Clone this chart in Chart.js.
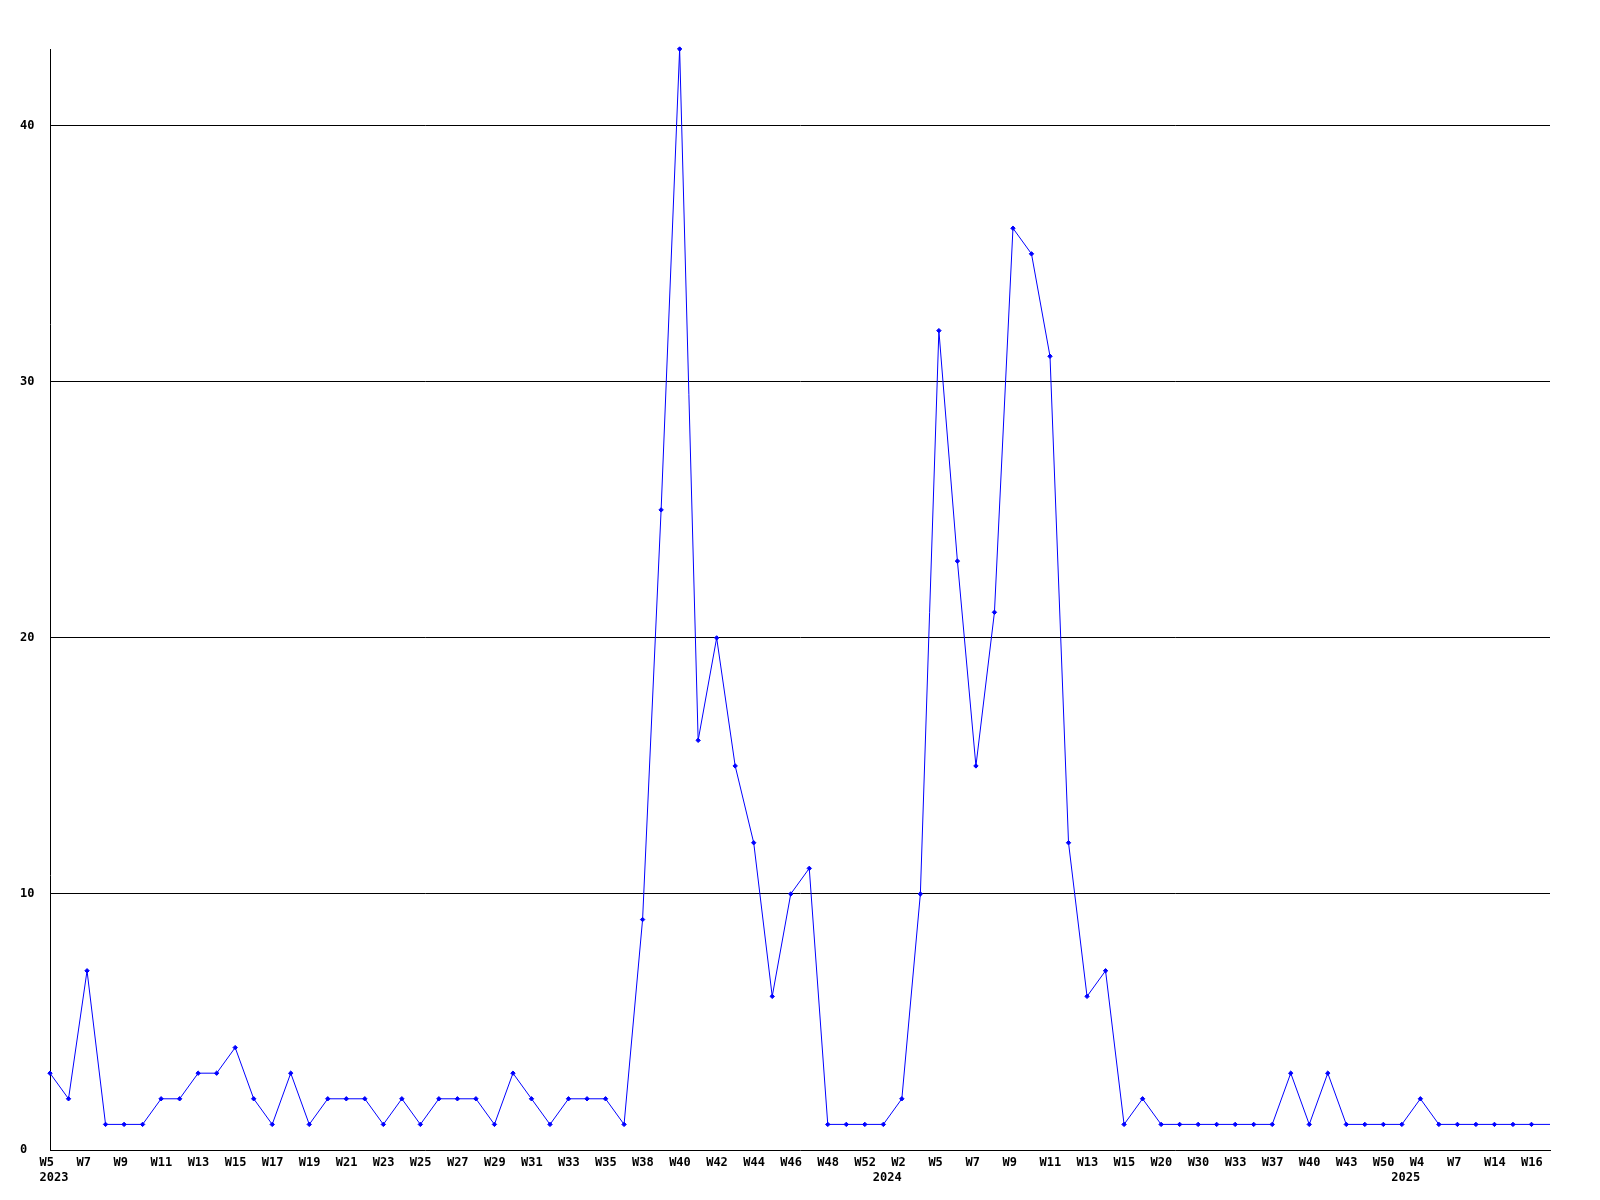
<!DOCTYPE html>
<html>
<head>
<meta charset="utf-8">
<script src="https://cdn.jsdelivr.net/npm/chart.js@4/dist/chart.umd.min.js"></script>
<style>
  html, body { margin: 0; padding: 0; background: #ffffff; }
  #wrap { width: 1600px; height: 1200px; }
</style>
</head>
<body>
<div id="wrap"><canvas id="c" width="1600" height="1200"></canvas></div>
<script>
// Week tick labels (empty = unlabeled category)
const weekLabels = [
  "W5","","W7","","W9","","W11","","W13","",
  "W15","","W17","","W19","","W21","","W23","",
  "W25","","W27","","W29","","W31","","W33","",
  "W35","","W38","","W40","","W42","","W44","",
  "W46","","W48","","W52","","W2","","W5","",
  "W7","","W9","","W11","","W13","","W15","",
  "W20","","W30","","W33","","W37","","W40","",
  "W43","","W50","","W4","","W7","","W14","",
  "W16",""
];
// Year labels on the second line
const yearLabels = [
  "2023","","","","","","","","","",
  "","","","","","","","","","",
  "","","","","","","","","","",
  "","","","","","","","","","",
  "","","","","","2024","","","","",
  "","","","","","","","","","",
  "","","","","","","","","","",
  "","","","2025","","","","","","",
  "",""
];
// Series values
const values = [
  3,2,7,1,1,1,2,2,3,3,
  4,2,1,3,1,2,2,2,1,2,
  1,2,2,2,1,3,2,1,2,2,
  2,1,9,25,43,16,20,15,12,6,
  10,11,1,1,1,1,2,10,32,23,
  15,21,36,35,31,12,6,7,1,2,
  1,1,1,1,1,1,1,3,1,3,
  1,1,1,1,2,1,1,1,1,1,
  1,1
];
const yTicks = { min: 0, max: 43, step: 10 };

const labels = weekLabels.map((w, i) => yearLabels[i] ? [w, yearLabels[i]] : w);
const font = { family: "'DejaVu Sans Mono', monospace", size: 12, weight: 'bold', lineHeight: 1.25 };

new Chart(document.getElementById('c'), {
  type: 'line',
  data: {
    labels: labels,
    datasets: [{
      data: values,
      borderColor: '#0000ff',
      backgroundColor: '#0000ff',
      borderWidth: 1,
      tension: 0,
      fill: false,
      clip: false,
      pointStyle: 'rectRot',
      pointRadius: (ctx) => ctx.dataIndex === values.length - 1 ? 0 : 2.2,
      pointBorderWidth: 1,
      pointBorderColor: '#0000ff',
      pointBackgroundColor: '#0000ff'
    }]
  },
  options: {
    responsive: false,
    animation: false,
    devicePixelRatio: 1,
    layout: { padding: { left: 20, top: 49, right: 50, bottom: 0 } },
    plugins: { legend: { display: false }, tooltip: { enabled: false } },
    scales: {
      x: {
        type: 'category',
        offset: false,
        grid: { display: false, drawTicks: false },
        border: { display: true, color: '#000000', width: 1 },
        ticks: {
          autoSkip: false, maxRotation: 0, minRotation: 0,
          align: 'start', labelOffset: -10.5,
          padding: 5, color: '#000000', font: font
        },
        afterFit: (s) => { s.height = 50; }
      },
      y: {
        min: yTicks.min, max: yTicks.max,
        grid: {
          display: true, drawTicks: false,
          color: (ctx) => ctx.tick && ctx.tick.value === 0 ? 'rgba(0,0,0,0)' : '#000000',
          lineWidth: 1
        },
        border: { display: true, color: '#000000', width: 1 },
        ticks: {
          stepSize: yTicks.step, includeBounds: false,
          crossAlign: 'far', padding: 0, color: '#000000', font: font
        },
        afterFit: (s) => { s.width = 30; }
      }
    }
  }
});
</script>
</body>
</html>
